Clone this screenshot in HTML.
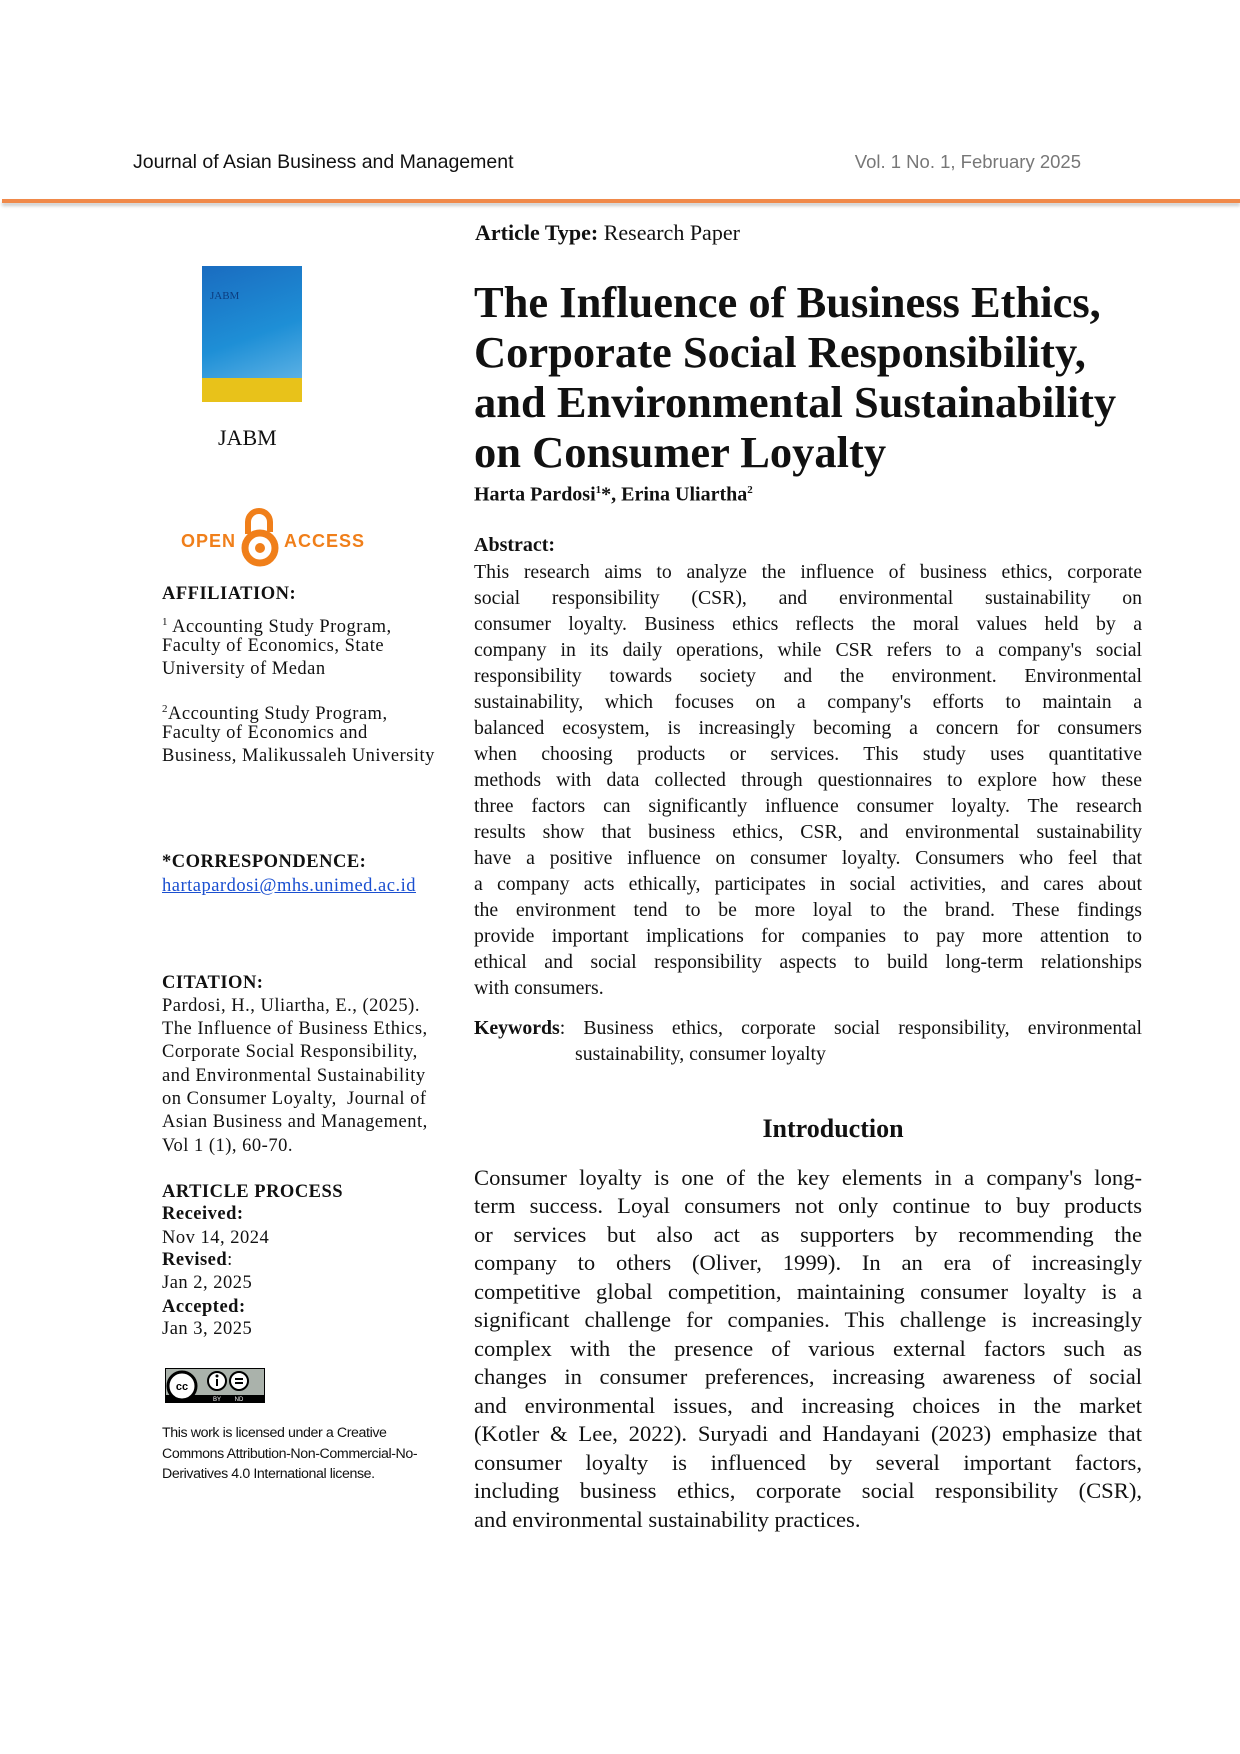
<!DOCTYPE html>
<html><head><meta charset="utf-8"><style>
body{margin:0;background:#fff}
#p{position:relative;width:1240px;height:1754px;overflow:hidden;font-family:"Liberation Serif",serif;color:#111}
.a{position:absolute;white-space:nowrap}
.j{position:absolute;left:474px;width:668px;text-align:justify;text-align-last:justify;white-space:nowrap}
.ab{font-size:19.8px;line-height:26px;height:26px}
.in{font-size:22.6px;line-height:28px;height:28px}
.l{position:absolute;left:162px;font-size:18.5px;line-height:23px;white-space:nowrap;letter-spacing:0.5px}
b{font-weight:bold}
.t{position:absolute;left:474px;font-size:44.5px;font-weight:bold;line-height:50px;white-space:nowrap}
</style></head><body><div id="p">
<div class="a" style="left:133px;top:150px;font-family:'Liberation Sans',sans-serif;font-size:19.5px;line-height:24px">Journal of Asian Business and Management</div>
<div class="a" style="right:159px;top:150px;font-family:'Liberation Sans',sans-serif;font-size:18.5px;line-height:24px;color:#777">Vol. 1 No. 1, February 2025</div>
<div class="a" style="left:2px;top:199px;width:1238px;height:4px;background:#f0894a;box-shadow:0 3px 3px #ccc"></div>

<div class="a" style="left:475px;top:220px;font-size:22px;line-height:26px"><b>Article Type:</b> Research Paper</div>
<div class="a" style="left:202px;top:266px;width:100px;height:112px;background:linear-gradient(160deg,#1a6cc0,#1e8fd6 60%,#5ab0e4)"></div>
<div class="a" style="left:202px;top:378px;width:100px;height:24px;background:#e8c21a"></div>
<div class="a" style="left:210px;top:290px;font-size:11px;color:#0c3d80">JABM</div>
<div class="a" style="left:218px;top:425px;font-size:22px;line-height:26px">JABM</div>

<div class="a" style="left:181px;top:531px;font-family:'Liberation Sans',sans-serif;font-weight:bold;font-size:18px;color:#f07f1a;letter-spacing:1px">OPEN</div>
<svg class="a" style="left:238px;top:504px" width="44" height="64"><path d="M10 30 V18 a11 11 0 0 1 22 0 V28" fill="none" stroke="#f07f1a" stroke-width="6"/><circle cx="22" cy="44" r="15" fill="none" stroke="#f07f1a" stroke-width="7"/><circle cx="22" cy="44" r="5" fill="#f07f1a"/></svg>
<div class="a" style="left:284px;top:531px;font-family:'Liberation Sans',sans-serif;font-weight:bold;font-size:18px;color:#f07f1a;letter-spacing:1px">ACCESS</div>

<div class="t" style="top:277px">The Influence of Business Ethics,</div>
<div class="t" style="top:327px">Corporate Social Responsibility,</div>
<div class="t" style="top:377px">and Environmental Sustainability</div>
<div class="t" style="top:427px">on Consumer Loyalty</div>
<div class="a" style="left:474px;top:478px;font-size:20px;font-weight:bold;line-height:24px">Harta Pardosi<sup style="font-size:11px">1</sup>*, Erina Uliartha<sup style="font-size:11px">2</sup></div>

<div class="a" style="left:474px;top:533px;font-size:20px;font-weight:bold;line-height:24px">Abstract:</div>
<div class="j ab" style="top:559px">This research aims to analyze the influence of business ethics, corporate</div>
<div class="j ab" style="top:585px">social responsibility (CSR), and environmental sustainability on</div>
<div class="j ab" style="top:611px">consumer loyalty. Business ethics reflects the moral values held by a</div>
<div class="j ab" style="top:637px">company in its daily operations, while CSR refers to a company's social</div>
<div class="j ab" style="top:663px">responsibility towards society and the environment. Environmental</div>
<div class="j ab" style="top:689px">sustainability, which focuses on a company's efforts to maintain a</div>
<div class="j ab" style="top:715px">balanced ecosystem, is increasingly becoming a concern for consumers</div>
<div class="j ab" style="top:741px">when choosing products or services. This study uses quantitative</div>
<div class="j ab" style="top:767px">methods with data collected through questionnaires to explore how these</div>
<div class="j ab" style="top:793px">three factors can significantly influence consumer loyalty. The research</div>
<div class="j ab" style="top:819px">results show that business ethics, CSR, and environmental sustainability</div>
<div class="j ab" style="top:845px">have a positive influence on consumer loyalty. Consumers who feel that</div>
<div class="j ab" style="top:871px">a company acts ethically, participates in social activities, and cares about</div>
<div class="j ab" style="top:897px">the environment tend to be more loyal to the brand. These findings</div>
<div class="j ab" style="top:923px">provide important implications for companies to pay more attention to</div>
<div class="j ab" style="top:949px">ethical and social responsibility aspects to build long-term relationships</div>
<div class="j ab" style="top:975px;text-align-last:left">with consumers.</div>

<div class="j ab" style="top:1015px"><b>Keywords</b>: Business ethics, corporate social responsibility, environmental</div>
<div class="a ab" style="left:575px;top:1041px">sustainability, consumer loyalty</div>

<div class="a" style="left:733px;width:200px;text-align:center;top:1114px;font-size:26px;font-weight:bold;line-height:30px">Introduction</div>

<div class="j in" style="top:1164px">Consumer loyalty is one of the key elements in a company's long-</div>
<div class="j in" style="top:1192px">term success. Loyal consumers not only continue to buy products</div>
<div class="j in" style="top:1221px">or services but also act as supporters by recommending the</div>
<div class="j in" style="top:1249px">company to others (Oliver, 1999). In an era of increasingly</div>
<div class="j in" style="top:1278px">competitive global competition, maintaining consumer loyalty is a</div>
<div class="j in" style="top:1306px">significant challenge for companies. This challenge is increasingly</div>
<div class="j in" style="top:1335px">complex with the presence of various external factors such as</div>
<div class="j in" style="top:1363px">changes in consumer preferences, increasing awareness of social</div>
<div class="j in" style="top:1392px">and environmental issues, and increasing choices in the market</div>
<div class="j in" style="top:1420px">(Kotler &amp; Lee, 2022). Suryadi and Handayani (2023) emphasize that</div>
<div class="j in" style="top:1449px">consumer loyalty is influenced by several important factors,</div>
<div class="j in" style="top:1477px">including business ethics, corporate social responsibility (CSR),</div>
<div class="j in" style="top:1506px;text-align-last:left">and environmental sustainability practices.</div>

<div class="l" style="top:583px"><b>AFFILIATION:</b></div>
<div class="l" style="top:611px"><sup style="font-size:11px">1</sup> Accounting Study Program,</div>
<div class="l" style="top:635px">Faculty of Economics, State</div>
<div class="l" style="top:658px">University of Medan</div>
<div class="l" style="top:698px"><sup style="font-size:11px">2</sup>Accounting Study Program,</div>
<div class="l" style="top:722px">Faculty of Economics and</div>
<div class="l" style="top:745px">Business, Malikussaleh University</div>
<div class="l" style="top:851px"><b>*CORRESPONDENCE:</b></div>
<div class="l" style="top:875px;color:#1a4fd0;text-decoration:underline">hartapardosi@mhs.unimed.ac.id</div>
<div class="l" style="top:972px"><b>CITATION:</b></div>
<div class="l" style="top:995px">Pardosi, H., Uliartha, E., (2025).</div>
<div class="l" style="top:1018px">The Influence of Business Ethics,</div>
<div class="l" style="top:1041px">Corporate Social Responsibility,</div>
<div class="l" style="top:1065px">and Environmental Sustainability</div>
<div class="l" style="top:1088px">on Consumer Loyalty, &nbsp;Journal of</div>
<div class="l" style="top:1111px">Asian Business and Management,</div>
<div class="l" style="top:1135px">Vol 1 (1), 60-70.</div>
<div class="l" style="top:1181px"><b>ARTICLE PROCESS</b></div>
<div class="l" style="top:1203px"><b>Received:</b></div>
<div class="l" style="top:1227px">Nov 14, 2024</div>
<div class="l" style="top:1249px"><b>Revised</b>:</div>
<div class="l" style="top:1272px">Jan 2, 2025</div>
<div class="l" style="top:1296px"><b>Accepted:</b></div>
<div class="l" style="top:1318px">Jan 3, 2025</div>

<svg class="a" style="left:165px;top:1368px" width="100" height="35"><rect width="100" height="35" fill="#000"/><rect x="1" y="1" width="98" height="26" fill="#aab2ab"/><circle cx="17" cy="18" r="14" fill="#fff" stroke="#000" stroke-width="3"/><text x="17" y="22" font-family="Liberation Sans" font-weight="bold" font-size="11" text-anchor="middle">cc</text><circle cx="52" cy="13" r="9" fill="#fff" stroke="#000" stroke-width="2"/><circle cx="74" cy="13" r="9" fill="#fff" stroke="#000" stroke-width="2"/><rect x="70" y="10" width="8" height="2"/><rect x="70" y="14" width="8" height="2"/><rect x="51" y="11" width="2" height="7"/><circle cx="52" cy="8" r="1.5"/><text x="52" y="33" fill="#fff" font-family="Liberation Sans" font-size="6" text-anchor="middle">BY</text><text x="74" y="33" fill="#fff" font-family="Liberation Sans" font-size="6" text-anchor="middle">ND</text></svg>
<div class="a" style="left:162px;top:1423px;font-family:'Liberation Sans',sans-serif;font-size:14.2px;line-height:20.5px;letter-spacing:-0.4px">This work is licensed under a Creative<br>Commons Attribution-Non-Commercial-No-<br>Derivatives 4.0 International license.</div>
</div></body></html>
